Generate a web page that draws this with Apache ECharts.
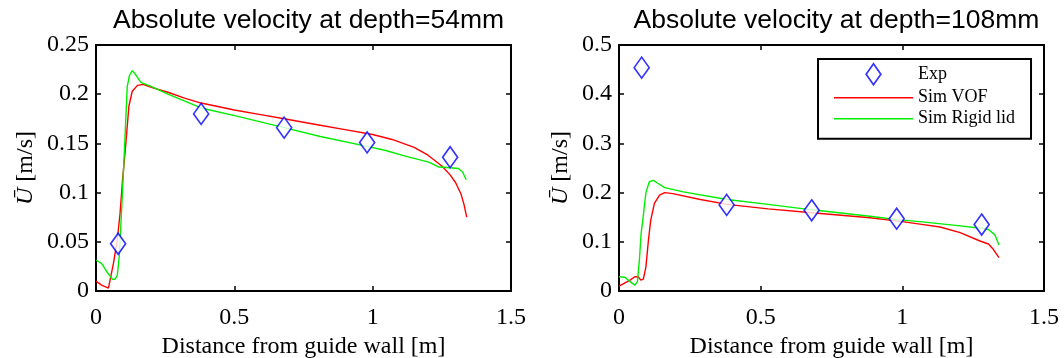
<!DOCTYPE html>
<html><head><meta charset="utf-8">
<script src="https://cdn.jsdelivr.net/npm/echarts@6/dist/echarts.min.js"></script>
<style>html,body{margin:0;padding:0;background:#fff}#c{width:1064px;height:358px}</style>
</head><body><div id="c"></div>
<script>
// ---- data ----
const titles = ['Absolute velocity at depth=54mm', 'Absolute velocity at depth=108mm'];
const seriesNames = ['Exp', 'Sim VOF', 'Sim Rigid lid'];
const xLabel = 'Distance from guide wall [m]';
const yLabel = '{u|Ū} [m/s]';

const expX = [0.08, 0.38, 0.68, 0.98, 1.28];
const leftExpY = [0.048, 0.180, 0.166, 0.151, 0.136];
const rightExpY = [0.454, 0.175, 0.164, 0.147, 0.135];

const leftVof = [
  [0, 0.010], [0.02, 0.006], [0.045, 0.003], [0.063, 0.028], [0.077, 0.052],
  [0.087, 0.079], [0.096, 0.113], [0.107, 0.147], [0.119, 0.188], [0.131, 0.203],
  [0.15, 0.209], [0.17, 0.210], [0.2, 0.207], [0.26, 0.202], [0.32, 0.196],
  [0.38, 0.191], [0.5, 0.184], [0.6, 0.179], [0.68, 0.175], [0.8, 0.169],
  [0.9, 0.164], [1.0, 0.159], [1.07, 0.154], [1.1, 0.151], [1.15, 0.146], [1.2, 0.138],
  [1.25, 0.127], [1.28, 0.118], [1.3, 0.110], [1.32, 0.098], [1.33, 0.088], [1.34, 0.075]
];
const leftRigid = [
  [0, 0.0315], [0.02, 0.028], [0.039, 0.0196], [0.059, 0.012], [0.069, 0.012],
  [0.077, 0.016], [0.084, 0.035], [0.089, 0.062], [0.096, 0.103], [0.1, 0.126],
  [0.113, 0.208], [0.121, 0.219], [0.131, 0.224], [0.143, 0.220], [0.162, 0.212],
  [0.199, 0.208], [0.26, 0.200], [0.38, 0.186], [0.505, 0.178], [0.68, 0.166],
  [0.811, 0.157], [0.98, 0.147], [1.044, 0.143], [1.118, 0.137], [1.203, 0.131],
  [1.24, 0.126], [1.268, 0.1255], [1.29, 0.125], [1.31, 0.1245], [1.325, 0.121],
  [1.338, 0.113]
];
const rightVof = [
  [0, 0.010], [0.039, 0.022], [0.056, 0.029], [0.068, 0.029], [0.077, 0.022],
  [0.086, 0.024], [0.095, 0.049], [0.104, 0.104], [0.112, 0.144], [0.125, 0.178],
  [0.143, 0.195], [0.161, 0.200], [0.19, 0.198], [0.287, 0.186], [0.382, 0.176],
  [0.526, 0.167], [0.681, 0.159], [0.886, 0.149], [1.0, 0.141], [1.062, 0.136],
  [1.133, 0.130], [1.204, 0.1186], [1.274, 0.1016], [1.304, 0.0955], [1.321, 0.0847],
  [1.341, 0.0677]
];
const rightRigid = [
  [0, 0.029], [0.021, 0.028], [0.039, 0.019], [0.056, 0.012], [0.065, 0.019],
  [0.072, 0.063], [0.078, 0.117], [0.084, 0.144], [0.095, 0.200], [0.107, 0.222],
  [0.121, 0.225], [0.137, 0.219], [0.161, 0.210], [0.227, 0.2015], [0.382, 0.186],
  [0.526, 0.176], [0.681, 0.165], [0.886, 0.152], [0.982, 0.145], [1.062, 0.141],
  [1.18, 0.134], [1.286, 0.127], [1.304, 0.125], [1.327, 0.114], [1.341, 0.0935]
];

const xMax = 1.5, xInterval = 0.5;
const leftYMax = 0.25, leftYInterval = 0.05;
const rightYMax = 0.5, rightYInterval = 0.1;

// ---- chart ----
const serif = '"Liberation Serif", "Times New Roman", serif';
const sans = '"Liberation Sans", Arial, sans-serif';
const RED = '#ff0000', GREEN = '#00ee00', BLUE = '#0000ff';

const grids = [
  {left: 96, top: 45, width: 415, height: 246, outerBoundsMode: 'none', containLabel: false},
  {left: 619, top: 45, width: 425, height: 246, outerBoundsMode: 'none', containLabel: false}
];
const centers = [96 + 415 / 2, 619 + 425 / 2];
const yNameGaps = [58, 46];

const axisLine = {show: true, onZero: false, lineStyle: {color: '#000', width: 2}};
const tick = {show: true, inside: true, length: 5, lineStyle: {color: '#000', width: 1.5}};

const xAxes = [], yAxes = [];
[[leftYMax, leftYInterval], [rightYMax, rightYInterval]].forEach((yy, g) => {
  xAxes.push({
    type: 'value', gridIndex: g, min: 0, max: xMax, interval: xInterval, position: 'bottom',
    axisLine, axisTick: tick, splitLine: {show: false},
    axisLabel: {color: '#000', fontFamily: serif, fontSize: 24, margin: 15},
    name: xLabel, nameLocation: 'middle', nameGap: 42,
    nameTextStyle: {color: '#000', fontFamily: serif, fontSize: 24}
  });
  xAxes.push({
    type: 'value', gridIndex: g, min: 0, max: xMax, interval: xInterval, position: 'top',
    axisLine, axisTick: tick, splitLine: {show: false}, axisLabel: {show: false}
  });
  yAxes.push({
    type: 'value', gridIndex: g, min: 0, max: yy[0], interval: yy[1], position: 'left',
    axisLine, axisTick: tick, splitLine: {show: false},
    axisLabel: {color: '#000', fontFamily: serif, fontSize: 24, margin: 7},
    name: yLabel, nameLocation: 'middle', nameGap: yNameGaps[g],
    nameTextStyle: {color: '#000', fontFamily: serif, fontSize: 24,
      rich: {u: {fontStyle: 'italic', fontFamily: serif, fontSize: 24, color: '#000'}}}
  });
  yAxes.push({
    type: 'value', gridIndex: g, min: 0, max: yy[0], interval: yy[1], position: 'right',
    axisLine, axisTick: tick, splitLine: {show: false}, axisLabel: {show: false}
  });
});

function expSeries(g, ys) {
  return {
    name: seriesNames[0], type: 'scatter', xAxisIndex: 2 * g, yAxisIndex: 2 * g,
    symbol: 'diamond', symbolSize: [15, 21],
    itemStyle: {color: '#fff', borderColor: BLUE, borderWidth: 1.7},
    data: expX.map((x, i) => [x, ys[i]]), z: 5
  };
}
function lineSeries(g, name, color, data) {
  return {
    name, type: 'line', xAxisIndex: 2 * g, yAxisIndex: 2 * g,
    symbol: 'none', showSymbol: false, smooth: false,
    lineStyle: {color, width: 1.4}, itemStyle: {color},
    data, z: 3
  };
}
const linePath = 'path://M0,0 L79,0 L79,1.5 L0,1.5 Z';

const option = {
  animation: false,
  backgroundColor: '#fff',
  title: titles.map((t, i) => ({
    text: t, left: centers[i], textAlign: 'center', top: 2,
    textStyle: {fontFamily: sans, fontSize: 26.5, fontWeight: 'normal', color: '#000'}
  })),
  grid: grids,
  xAxis: xAxes,
  yAxis: yAxes,
  legend: {
    orient: 'vertical', left: 818, top: 59,
    padding: [4, 16, 11, 16], itemGap: 3,
    itemWidth: 79, itemHeight: 21,
    backgroundColor: '#fff', borderColor: '#000', borderWidth: 2,
    textStyle: {fontFamily: serif, fontSize: 18, color: '#000'},
    data: [
      {name: seriesNames[0], icon: 'path://M7,0 L14,10 L7,20 L0,10 Z',
       itemStyle: {color: '#fff', borderColor: BLUE, borderWidth: 1.7}},
      {name: seriesNames[1], icon: linePath, itemStyle: {color: RED, borderWidth: 0}},
      {name: seriesNames[2], icon: linePath, itemStyle: {color: GREEN, borderWidth: 0}}
    ],
    selectedMode: false
  },
  series: [
    expSeries(0, leftExpY),
    lineSeries(0, seriesNames[1], RED, leftVof),
    lineSeries(0, seriesNames[2], GREEN, leftRigid),
    expSeries(1, rightExpY),
    lineSeries(1, seriesNames[1], RED, rightVof),
    lineSeries(1, seriesNames[2], GREEN, rightRigid)
  ]
};

const chart = echarts.init(document.getElementById('c'), null, {renderer: 'canvas'});
chart.setOption(option);
</script>
</body></html>
